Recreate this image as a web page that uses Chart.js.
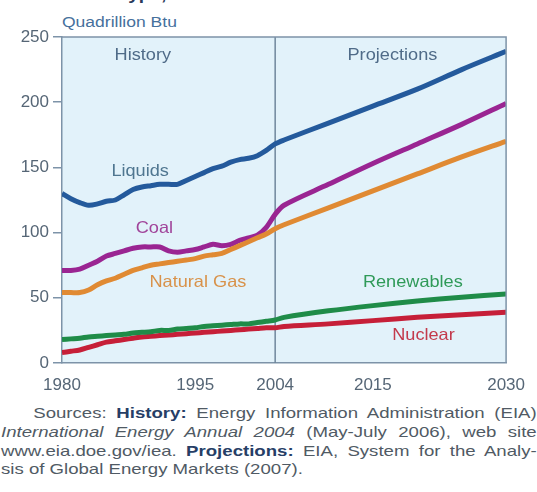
<!DOCTYPE html>
<html>
<head>
<meta charset="utf-8">
<script src="https://cdn.jsdelivr.net/npm/chart.js@4/dist/chart.umd.min.js"></script>
<style>
  body { margin: 0; background: #ffffff; width: 537px; height: 492px; overflow: hidden; position: relative; font-family: "Liberation Sans", Arial, sans-serif; }
  #wrap { position: absolute; left: 0; top: 0; width: 537px; height: 400px; }
  #title { position: absolute; left: 118px; top: -15px; font-weight: bold; font-size: 17px; color: #2a3a5a; transform: scaleX(1.12); transform-origin: left top; white-space: nowrap; }
  #unit { position: absolute; left: 62px; top: 13px; font-size: 15.5px; color: #46709c; transform: scaleX(1.13); transform-origin: left top; white-space: nowrap; }
  #src { position: absolute; left: 1px; top: 404px; font-size: 15px; color: #505a64; transform: scaleX(1.24); transform-origin: left top; }
  #src div { width: 432px; height: 18.8px; white-space: nowrap; text-align: justify; text-align-last: justify; }
  #src div.first { padding-left: 26px; width: 406px; }
  #src div.last { text-align: left; text-align-last: left; }
  #src b { color: #263e66; }
</style>
</head>
<body>
<div id="title">Type, 1980-2030</div>
<div id="unit">Quadrillion Btu</div>
<div id="wrap"><canvas id="canvas" width="537" height="400"></canvas></div>
<div id="src">
  <div class="first">Sources: <b>History:</b> Energy Information Administration (EIA)</div>
  <div><i>International Energy Annual 2004</i> (May-July 2006), web site</div>
  <div>www.eia.doe.gov/iea. <b>Projections:</b> EIA, System for the Analy-</div>
  <div class="last">sis of Global Energy Markets (2007).</div>
</div>
<script>
// years: history 1980-2004, projections 2005-2030
var years = [1980,1981,1982,1983,1984,1985,1986,1987,1988,1989,1990,1991,1992,1993,1994,1995,1996,1997,1998,1999,2000,2001,2002,2003,2004,
             2005,2010,2015,2020,2025,2030];
var xTickYears = [1980, 1995, 2004, 2015, 2030];

var liquids = [130,126,123,121,122,124,125,129,133,135,136,137,137,137,140,143,146,149,151,154,156,157,159,163,168,
               171,184,197,210,225,239];
var coal = [71,71,72,75,78,82,84,86,88,89,89,89,86,85,86,87,89,91,90,91,94,96,98,104,114,
            121,137,153,168,183,199];
var naturalGas = [54,54,54,56,60,63,65,68,71,73,75,76,77,78,79,80,82,83,84,87,90,93,96,99,103,
                  106,119,132,145,158,170];
var renewables = [18,18.5,19,20,20.5,21,21.5,22,23,23.5,24,25,25,26,26.5,27,28,28.5,29,29.5,30,30,31,32,33,
                  35,40,44,47.5,50.5,53];
var nuclear = [8,9,10,12,14,16,17,18,19,20,20.5,21,21.5,22,22.5,23,23.5,24,24.5,25,25.5,26,26.5,27,27,
               28,30,32.5,35,37,39];

function toPoints(vals) {
    var pts = [];
    for (var i = 0; i < vals.length; i++) {
        pts.push({x: years[i], y: vals[i]});
    }
    return pts;
}

// text labels inside the plot, placed in data coordinates
var plotLabels = [
    {text: "History",     x: 1989.1, y: 236, color: "#4f6b88"},
    {text: "Projections", x: 2017.2, y: 236, color: "#4f6b88"},
    {text: "Liquids",     x: 1988.8, y: 147, color: "#4f7690"},
    {text: "Coal",        x: 1990.4, y: 103, color: "#a0449a"},
    {text: "Natural Gas", x: 1995.3, y: 62,  color: "#d8924a"},
    {text: "Renewables",  x: 2019.5, y: 62,  color: "#2f9a58"},
    {text: "Nuclear",     x: 2020.7, y: 21,  color: "#c33a4c"}
];

var plotDecor = {
    id: 'plotDecor',
    beforeDraw: function(chart) {
        var a = chart.chartArea, ctx = chart.ctx;
        ctx.save();
        ctx.fillStyle = "#e2f2fa";
        ctx.fillRect(a.left, a.top, a.right - a.left, a.bottom - a.top);
        ctx.restore();
    },
    beforeDatasetsDraw: function(chart) {
        var a = chart.chartArea, ctx = chart.ctx;
        var x = chart.scales.x.getPixelForValue(2004);
        ctx.save();
        ctx.strokeStyle = "#6f879c";
        ctx.lineWidth = 1.5;
        ctx.beginPath();
        ctx.moveTo(x, a.top);
        ctx.lineTo(x, a.bottom);
        ctx.stroke();
        ctx.restore();
    },
    afterDraw: function(chart) {
        var a = chart.chartArea, ctx = chart.ctx;
        ctx.save();
        ctx.strokeStyle = "#7d93a8";
        ctx.lineWidth = 1.5;
        ctx.beginPath();
        ctx.moveTo(a.left, a.top);
        ctx.lineTo(a.right, a.top);
        ctx.lineTo(a.right, a.bottom);
        ctx.stroke();
        ctx.font = "16.5px 'Liberation Sans', Arial, sans-serif";
        ctx.textAlign = "center";
        ctx.textBaseline = "middle";
        plotLabels.forEach(function(l) {
            var px = chart.scales.x.getPixelForValue(l.x);
            var py = chart.scales.y.getPixelForValue(l.y);
            ctx.save();
            ctx.translate(px, py);
            ctx.scale(1.1, 1);
            ctx.fillStyle = l.color;
            ctx.fillText(l.text, 0, 0);
            ctx.restore();
        });
        ctx.restore();
    }
};

function series(label, vals, color) {
    return {
        label: label,
        data: toPoints(vals),
        borderColor: color,
        backgroundColor: color,
        borderWidth: 5,
        pointRadius: 0,
        tension: 0.3,
        fill: false
    };
}

window.onload = function() {
    var ctx = document.getElementById("canvas").getContext("2d");
    new Chart(ctx, {
        type: 'line',
        data: {
            datasets: [
                series('Liquids', liquids, "#245a9c"),
                series('Natural Gas', naturalGas, "#e08a33"),
                series('Coal', coal, "#9a2592"),
                series('Renewables', renewables, "#1f8c48"),
                series('Nuclear', nuclear, "#c61f38")
            ]
        },
        options: {
            responsive: false,
            animation: false,
            layout: { padding: { top: 37, right: 17, left: 0, bottom: 0 } },
            plugins: { legend: { display: false }, tooltip: { enabled: false } },
            scales: {
                x: {
                    type: 'linear',
                    min: 1980,
                    max: 2030,
                    afterBuildTicks: function(scale) {
                        scale.ticks = xTickYears.map(function(v) { return {value: v}; });
                    },
                    afterFit: function(scale) { scale.height = 37; },
                    grid: { drawOnChartArea: false, drawTicks: false },
                    border: { color: "#7d93a8", width: 1.5 },
                    ticks: {
                        autoSkip: false,
                        maxRotation: 0,
                        padding: 12,
                        color: "#566676",
                        font: { family: "'Liberation Sans', Arial, sans-serif", size: 17 },
                        callback: function(v) { return String(v); }
                    }
                },
                y: {
                    min: 0,
                    max: 250,
                    afterFit: function(scale) { scale.width = 62; },
                    grid: { drawOnChartArea: false, drawTicks: true, tickLength: 9, color: "#7d93a8", lineWidth: 1.5 },
                    border: { color: "#7d93a8", width: 1.5 },
                    ticks: {
                        stepSize: 50,
                        padding: 4,
                        color: "#566676",
                        font: { family: "'Liberation Sans', Arial, sans-serif", size: 17 }
                    }
                }
            }
        },
        plugins: [plotDecor]
    });
};
</script>
</body>
</html>
